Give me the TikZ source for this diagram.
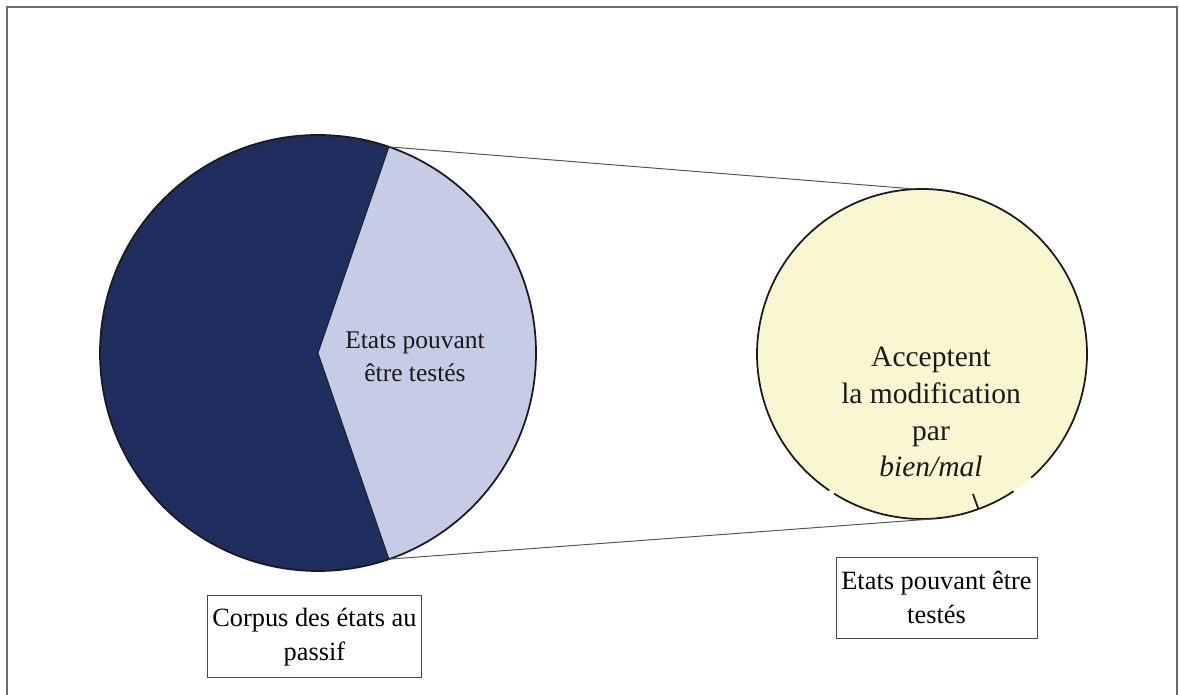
\documentclass[tikz,border=0pt]{standalone}
\usepackage{fontspec}
\setmainfont{Liberation Serif}
\usepackage{xcolor}
\usepackage{tikz}
\usetikzlibrary{calc}
\definecolor{Navy}{HTML}{1F2E5E}
\definecolor{Lavender}{HTML}{C6CBE6}
\definecolor{Cream}{HTML}{F9F7D1}
\definecolor{Frame}{HTML}{6B6B6B}
\definecolor{Ink}{HTML}{1A1A1A}

\begin{document}
\begin{tikzpicture}[x=0.02cm,y=0.02cm,
  outline/.style={draw=Ink,line width=1pt},
  zoomline/.style={draw=Ink!75,line width=0.55pt},
  slicetext/.style={font=\fontsize{14.5}{18.8}\selectfont,align=center,text=Ink},
  disktext/.style={font=\fontsize{16.8}{21}\selectfont,align=center,text=Ink},
  caption/.style={draw=Ink!80,line width=0.5pt,font=\fontsize{15}{19.4}\selectfont,
    align=center,inner sep=0pt,fill=white}
]
\useasboundingbox (0,0) rectangle (1179,695);
\draw[Frame,line width=0.8pt] (7,0) -- (7,688) -- (1177,688) -- (1177,0);

\coordinate (pc) at (318,342);
\fill[Navy] (pc) -- ++(71:218) arc[start angle=71,end angle=289,radius=218] -- cycle;
\fill[Lavender] (pc) -- ++(-71:218) arc[start angle=-71,end angle=71,radius=218] -- cycle;
\draw[outline] (pc) circle[radius=218];
\path (pc) ++(71:218) coordinate (cuttop);
\path (pc) ++(-71:218) coordinate (cutbot);
\draw[Ink,line width=0.5pt] (cuttop) -- (pc) -- (cutbot);

\node[circle,fill=Cream,minimum size=6.6cm,inner sep=0pt] (detail) at (922,341) {};
\draw[outline] (detail.center) ++(-48.6:165) arc[start angle=-48.6,end angle=235.8,radius=165];
\draw[outline] (detail.center) ++(237.8:165) arc[start angle=237.8,end angle=303.7,radius=165];
\draw[outline] (detail.center) ++(-70:165) -- ++(110:16);

\draw[zoomline] (cuttop) -- (detail.93);
\draw[zoomline] (cutbot) -- (detail.-86);

\node[slicetext] (slicelabel) at (415,338) {Etats pouvant\\être testés};
\node[disktext] (disklabel) at (931,283) {Acceptent\\la modification\\par\\\textit{bien/mal}};
\node[caption,minimum width=4.294cm,minimum height=1.64cm] (corpus) at (314.4,58.3)
  {Corpus des états au\\passif};
\node[caption,minimum width=4.02cm,minimum height=1.62cm] (testables) at (936.5,97.5)
  {Etats pouvant être\\testés};
\end{tikzpicture}
\end{document}
